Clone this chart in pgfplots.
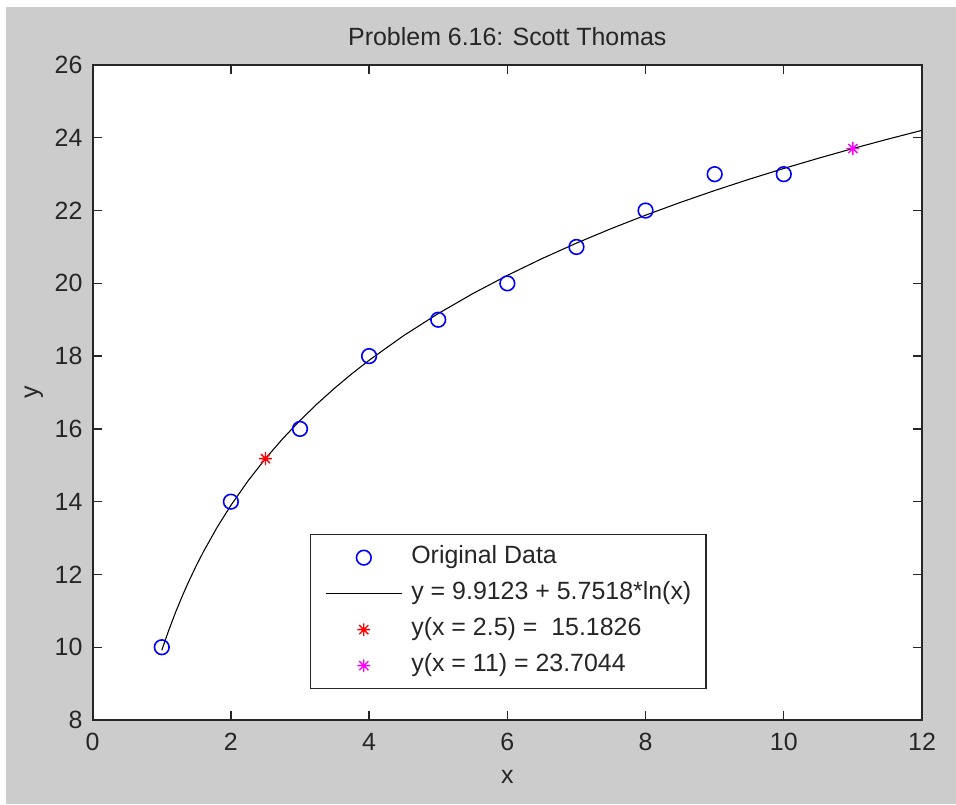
\documentclass[border=0pt]{standalone}
\usepackage{fontspec}
\setmainfont{Liberation Sans}
\usepackage{pgfplots}
\pgfplotsset{compat=1.18}
\definecolor{bggray}{RGB}{204,204,204}
\definecolor{axgray}{RGB}{38,38,38}
\definecolor{mblue}{RGB}{0,0,255}
\definecolor{mred}{RGB}{255,0,0}
\definecolor{mmag}{RGB}{255,0,255}
\pgfdeclareplotmark{mstar}{%
  \pgfpathmoveto{\pgfqpoint{0pt}{\pgfplotmarksize}}%
  \pgfpathlineto{\pgfqpoint{0pt}{-\pgfplotmarksize}}%
  \pgfpathmoveto{\pgfqpoint{\pgfplotmarksize}{0pt}}%
  \pgfpathlineto{\pgfqpoint{-\pgfplotmarksize}{0pt}}%
  \pgfpathmoveto{\pgfqpoint{.707\pgfplotmarksize}{.707\pgfplotmarksize}}%
  \pgfpathlineto{\pgfqpoint{-.707\pgfplotmarksize}{-.707\pgfplotmarksize}}%
  \pgfpathmoveto{\pgfqpoint{-.707\pgfplotmarksize}{.707\pgfplotmarksize}}%
  \pgfpathlineto{\pgfqpoint{.707\pgfplotmarksize}{-.707\pgfplotmarksize}}%
  \pgfusepathqstroke}
\begin{document}
\fontsize{18.7}{22.4}\selectfont
\begin{tikzpicture}
\useasboundingbox (-69.5pt,-63pt) rectangle (647.5pt,540pt);
\fill[white] (-69.5pt,-63pt) rectangle (647.5pt,540pt);
\fill[bggray] (-65pt,-63pt) rectangle (647.5pt,534.75pt);
\begin{axis}[
  at={(0pt,0pt)}, anchor=south west,
  scale only axis, width=622pt, height=491.25pt,
  xmin=0, xmax=12, ymin=8, ymax=26,
  xtick={0,2,...,12}, ytick={8,10,...,26},
  tick align=inside, major tick length=6.75pt,
  axis line style={axgray, line width=1.5pt},
  tick style={axgray, line width=1pt},
  axis background/.style={fill=white},
  /pgf/number format/assume math mode=true,
  xticklabel style={inner sep=0pt, yshift=-9.75pt, text=axgray},
  yticklabel style={inner sep=0pt, xshift=-7.5pt, text=axgray},
  title={Problem 6.16: Scott Thomas},
  xlabel={x}, ylabel={y},
  every axis title/.style={at={(axis description cs:0.5,1.029)}, anchor=base, text=axgray},
  every axis x label/.style={at={(axis description cs:0.5,-0.0962)}, anchor=base, text=axgray},
  every axis y label/.style={at={(axis description cs:-0.066,0.5)}, rotate=90, anchor=base, text=axgray},
  legend cell align=left,
  legend style={at={(rel axis cs:0.262,0.284)}, anchor=north west,
    draw=axgray, line width=1pt, fill=white, text=axgray,
    inner xsep=11pt, inner ysep=3.75pt,
    nodes={inner xsep=0pt, inner ysep=4.5pt, text height=13.5pt, text depth=4.5pt},
    /tikz/every odd column/.append style={column sep=6.75pt},
    /tikz/every even column/.append style={column sep=0pt}},
  legend image code/.code={\draw[mark repeat=2,mark phase=2,#1] plot coordinates {(0pt,0pt) (28.5pt,0pt) (57pt,0pt)};},
]
\addplot[only marks, mark=o, mark size=5.5pt, mblue, line width=1.2pt]
  coordinates {(1,10)(2,14)(3,16)(4,18)(5,19)(6,20)(7,21)(8,22)(9,23)(10,23)};
\addlegendentry{Original Data}
\addplot[black, line width=0.8pt, no marks]
  coordinates {(1,9.9123)(1.05,10.1929)(1.1,10.4605)(1.2,10.9610)(1.3,11.4214)(1.4,11.8476)(1.5,12.2444)(1.6,12.6157)(1.8,13.2931)(2,13.8991)(2.25,14.5766)(2.5,15.1826)(2.75,15.7308)(3,16.2312)(3.25,16.6916)(3.5,17.1179)(3.75,17.5148)(4,17.8859)(4.5,18.5633)(5,19.1693)(5.5,19.7175)(6,20.2180)(6.5,20.6784)(7,21.1047)(7.5,21.5015)(8,21.8727)(8.5,22.2214)(9,22.5502)(9.5,22.8612)(10,23.1562)(10.5,23.4368)(11,23.7044)(11.5,23.9601)(12,24.2049)};
\addlegendentry{y = 9.9123 + 5.7518*ln(x)}
\addplot[only marks, mark=mstar, mark size=4.8pt, mred, line width=1pt]
  coordinates {(2.5,15.1826)};
\addlegendentry{y(x = 2.5) = \ 15.1826}
\addplot[only marks, mark=mstar, mark size=4.8pt, mmag, line width=1pt]
  coordinates {(11,23.7044)};
\addlegendentry{y(x = 11) = 23.7044}
\end{axis}
\end{tikzpicture}
\end{document}
